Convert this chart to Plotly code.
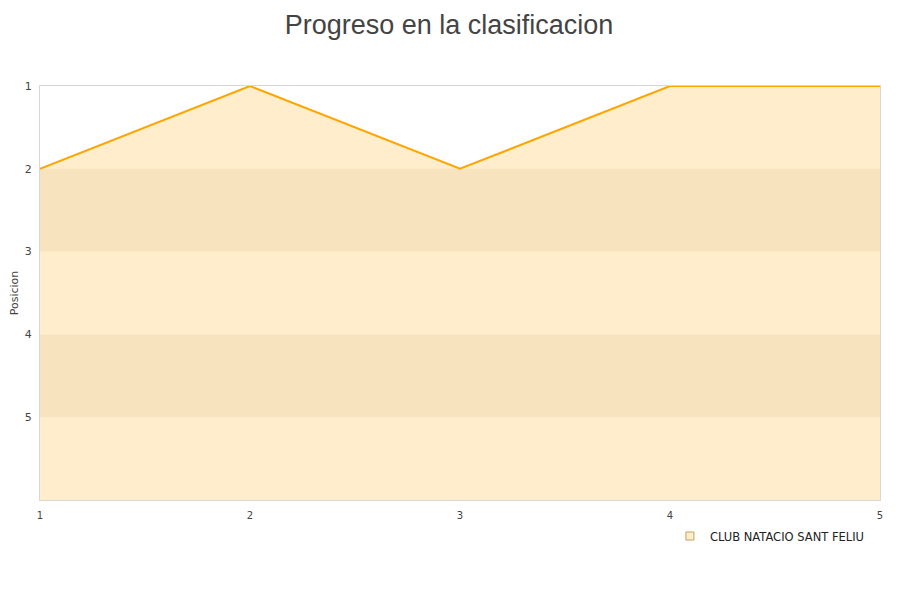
import plotly.graph_objects as go

jornadas = [1, 2, 3, 4, 5]
posiciones = [2, 1, 2, 1, 1]
equipo = "CLUB NATACIO SANT FELIU"
fondo = [6, 6, 6, 6, 6]
y_ticks = [1, 2, 3, 4, 5]

fig = go.Figure()

# alternating bands
for y0, y1 in [(2, 3), (4, 5)]:
    fig.add_shape(type="rect", xref="x", yref="y", x0=1, x1=5, y0=y0, y1=y1,
                  fillcolor="rgba(200,160,100,0.12)", line=dict(width=0), layer="above")

fig.add_trace(go.Scatter(x=jornadas, y=fondo, mode="lines", line=dict(width=0),
                         showlegend=False, hoverinfo="skip"))
fig.add_trace(go.Scatter(x=jornadas, y=posiciones, mode="lines", fill="tonexty",
                         fillcolor="#FFEDCC", line=dict(color="#FFA500", width=2),
                         showlegend=False, name=equipo))
fig.add_trace(go.Scatter(x=[None], y=[None], mode="markers", name=equipo,
                         marker=dict(symbol="square", size=8, color="#FFEDCC",
                                     line=dict(color="#C8A060", width=1))))

fig.update_layout(
    width=900, height=600,
    paper_bgcolor="white", plot_bgcolor="white",
    margin=dict(l=32, r=28, t=78, b=108, autoexpand=False),
    title=dict(text="Progreso en la clasificacion", x=0.49, xanchor="center",
               xref="container", yref="container", y=0.988, yanchor="top",
               font=dict(family="Liberation Sans", size=27, color="#444444")),
    font=dict(family="DejaVu Sans", size=11, color="#444444"),
    xaxis=dict(range=[1, 5], tickvals=jornadas, showgrid=False, zeroline=False,
               showline=True, linecolor="#D8D8D8", mirror=True, ticks="",
               ticklabelstandoff=6, automargin=False,
               tickfont=dict(size=10)),
    yaxis=dict(range=[6, 1], tickvals=y_ticks, showgrid=True, gridcolor="#D8D8D8",
               zeroline=False, showline=True, linecolor="#D8D8D8", mirror=True, ticks="",
               ticklabelstandoff=5, automargin=False,
               title=dict(text="Posicion", font=dict(size=11), standoff=4)),
    legend=dict(orientation="h", x=0.988, xanchor="right", y=-0.052, yanchor="top",
                itemwidth=30,
                font=dict(family="DejaVu Sans", size=11.5, color="#222222")),
)

fig.write_html("out.html")
